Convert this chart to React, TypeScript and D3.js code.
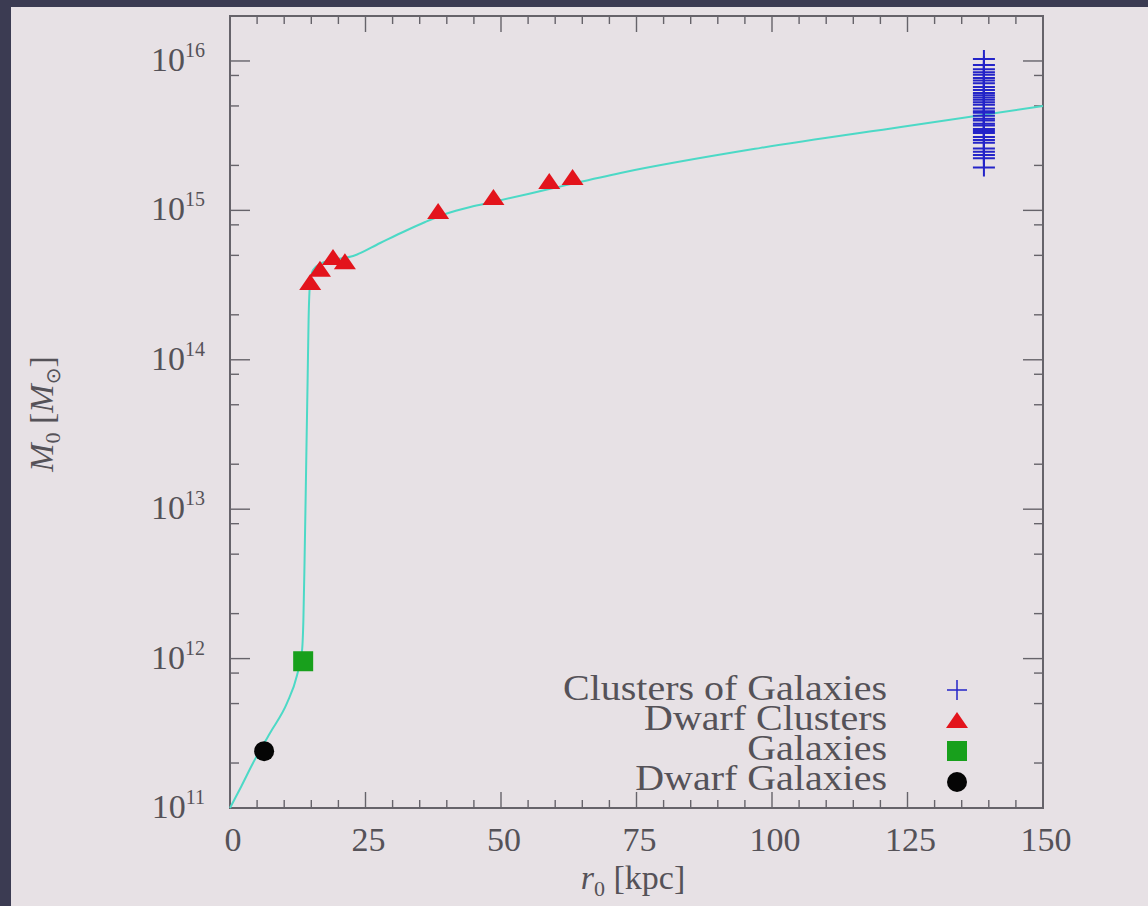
import React from "react";
import * as d3 from "d3";

// ---------- data ----------
const X_TICKS = [0, 25, 50, 75, 100, 125, 150];
const Y_EXPONENTS = [11, 12, 13, 14, 15, 16];
const Y_MINOR_MULTS = [2, 5, 8];

const CURVE_R = [0, 2.1, 4.25, 7.39, 10.53, 12.38, 13.3, 13.54, 13.76, 13.95, 14.13, 14.32, 14.5, 14.78, 15.33, 16.63, 18.84, 22.72, 27.71, 32.33, 36.02, 39.72, 44.34, 48.59, 59.67, 72.05, 97.91, 123.78, 150];
const CURVE_M = [1e11, 1.4e11, 2.0e11, 3.18e11, 5.05e11, 7.77e11, 1.14e12, 1.81e12, 4.57e12, 1.15e13, 2.9e13, 7.33e13, 1.85e14, 3.27e14, 3.99e14, 4.38e14, 4.66e14, 4.95e14, 6.05e14, 7.28e14, 8.36e14, 9.46e14, 1.055e15, 1.14e15, 1.41e15, 1.78e15, 2.62e15, 3.62e15, 5.0e15];

const CLUSTERS_R = 139.1;
const CLUSTERS_M = [10.3e15, 9.4e15, 8.8e15, 8.4e15, 8.1e15, 7.7e15, 7.4e15, 7.1e15, 6.7e15, 6.4e15, 6.1e15, 5.9e15, 5.7e15, 5.5e15, 5.3e15, 5.1e15, 4.8e15, 4.6e15, 4.5e15, 4.3e15, 4.1e15, 4.0e15, 3.8e15, 3.7e15, 3.5e15, 3.4e15, 3.3e15, 3.1e15, 2.96e15, 2.84e15, 2.6e15, 2.47e15, 2.35e15, 2.23e15, 1.94e15];

const DWARF_CLUSTERS_R = [14.8, 16.6, 19.0, 21.2, 38.4, 48.6, 58.9, 63.2];
const DWARF_CLUSTERS_M = [3.27e14, 4.0e14, 4.8e14, 4.5e14, 9.75e14, 1.21e15, 1.55e15, 1.65e15];

const GALAXIES_R = [13.5];
const GALAXIES_M = [9.6e11];

const DWARF_GALAXIES_R = [6.3];
const DWARF_GALAXIES_M = [2.4e11];

const LEGEND_LABELS = ["Clusters of Galaxies", "Dwarf Clusters", "Galaxies", "Dwarf Galaxies"];

// ---------- style ----------
const W = 1148;
const H = 906;
const L = 230, R = 1043, T = 16, B = 808;
const BG = "#e7e1e5";
const DARK = "#3b3b52";
const AXIS = "#66636a";
const TEXT = "#555258";
const CURVE = "#4cd9c6";
const BLUE = "#2424c8";
const RED = "#e3141c";
const GREEN = "#18a01c";
const FONT = "'Liberation Serif', 'Times New Roman', serif";

const x = d3.scaleLinear().domain([0, 150]).range([L, R]);
const y = d3.scaleLog().domain([1e11, 2e16]).range([B, T]);

function triPath(cx: number, cy: number) {
  return `M${cx},${cy - 9} L${cx + 11},${cy + 7} L${cx - 11},${cy + 7} Z`;
}
function plusPath(cx: number, cy: number, h = 10, v = 9) {
  return `M${cx - h},${cy} H${cx + h} M${cx},${cy - v} V${cy + v}`;
}

export default function App() {
  const line = d3
    .line<number>()
    .x((_, i) => x(CURVE_R[i]))
    .y((_, i) => y(CURVE_M[i]))
    .curve(d3.curveMonotoneX);

  const xMinor = d3.range(0, 151, 5).filter((v) => v % 25 !== 0);
  const yMinor: number[] = [];
  Y_EXPONENTS.forEach((e) =>
    Y_MINOR_MULTS.forEach((m) => {
      const v = m * Math.pow(10, e);
      if (v < 2e16) yMinor.push(v);
    })
  );

  const legendX = 887;
  const markerX = 957;
  const legendBase = 700;
  const legendStep = 30;

  return (
    <svg
      width={W}
      height={H}
      style={{ position: "absolute", left: 0, top: 0, display: "block" }}
      fontFamily={FONT}
    >
      <rect x={0} y={0} width={W} height={H} fill={BG} />
      <rect x={0} y={0} width={W} height={7} fill={DARK} />
      <rect x={0} y={0} width={11} height={H} fill={DARK} />

      {/* ticks */}
      <g stroke={AXIS} strokeWidth={1.4}>
        {X_TICKS.map((t) => (
          <g key={"xt" + t}>
            <line x1={x(t)} x2={x(t)} y1={B} y2={B - 16} />
            <line x1={x(t)} x2={x(t)} y1={T} y2={T + 16} />
          </g>
        ))}
        {xMinor.map((t) => (
          <g key={"xm" + t}>
            <line x1={x(t)} x2={x(t)} y1={B} y2={B - 8} />
            <line x1={x(t)} x2={x(t)} y1={T} y2={T + 8} />
          </g>
        ))}
        {Y_EXPONENTS.map((e) => {
          const yy = y(Math.pow(10, e));
          return (
            <g key={"yt" + e}>
              <line x1={L} x2={L + 20} y1={yy} y2={yy} />
              <line x1={R} x2={R - 20} y1={yy} y2={yy} />
            </g>
          );
        })}
        {yMinor.map((v) => {
          const yy = y(v);
          return (
            <g key={"ym" + v}>
              <line x1={L} x2={L + 9} y1={yy} y2={yy} />
              <line x1={R} x2={R - 9} y1={yy} y2={yy} />
            </g>
          );
        })}
      </g>

      {/* frame */}
      <rect x={L} y={T} width={R - L} height={B - T} fill="none" stroke={AXIS} strokeWidth={2} />

      {/* tick labels */}
      <g fill={TEXT} fontSize={34}>
        {X_TICKS.map((t) => (
          <text key={"xl" + t} x={x(t) + 3} y={851} textAnchor="middle">
            {t}
          </text>
        ))}
        {Y_EXPONENTS.map((e) => (
          <text key={"yl" + e} x={205} y={y(Math.pow(10, e)) + 10} textAnchor="end">
            10
            <tspan fontSize={20} dy={-14}>
              {e}
            </tspan>
          </text>
        ))}
      </g>

      {/* axis titles */}
      <text x={633} y={889} textAnchor="middle" fill={TEXT} fontSize={34}>
        <tspan fontStyle="italic">r</tspan>
        <tspan fontSize={22} dy={7}>0</tspan>
        <tspan dy={-7}> [kpc]</tspan>
      </text>
      <text
        transform="translate(53,414) rotate(-90)"
        textAnchor="middle"
        fill={TEXT}
        fontSize={34}
      >
        <tspan fontStyle="italic">M</tspan>
        <tspan fontSize={22} dy={7}>0</tspan>
        <tspan dy={-7}> [</tspan>
        <tspan fontStyle="italic">M</tspan>
        <tspan fontSize={20} dy={7} fontFamily="'DejaVu Sans', sans-serif">⊙</tspan>
        <tspan dy={-7}>]</tspan>
      </text>

      {/* curve */}
      <path d={line(CURVE_R) || ""} fill="none" stroke={CURVE} strokeWidth={2} />

      {/* clusters of galaxies */}
      <g stroke={BLUE} strokeWidth={2}>
        {CLUSTERS_M.map((m, i) => (
          <path key={"c" + i} d={plusPath(x(CLUSTERS_R), y(m), 11, 9)} fill="none" />
        ))}
      </g>

      {/* dwarf clusters */}
      <g fill={RED}>
        {DWARF_CLUSTERS_R.map((r, i) => (
          <path key={"dc" + i} d={triPath(x(r), y(DWARF_CLUSTERS_M[i]))} />
        ))}
      </g>

      {/* galaxies */}
      <g fill={GREEN}>
        {GALAXIES_R.map((r, i) => (
          <rect key={"g" + i} x={x(r) - 10} y={y(GALAXIES_M[i]) - 10} width={20} height={20} />
        ))}
      </g>

      {/* dwarf galaxies */}
      <g fill="#050505">
        {DWARF_GALAXIES_R.map((r, i) => (
          <circle key={"dg" + i} cx={x(r)} cy={y(DWARF_GALAXIES_M[i])} r={10} />
        ))}
      </g>

      {/* legend */}
      <g fill={TEXT} fontSize={36}>
        {LEGEND_LABELS.map((lab, i) => (
          <text
            key={lab}
            transform={`translate(${legendX},${legendBase + i * legendStep}) scale(1.11,1)`}
            textAnchor="end"
          >
            {lab}
          </text>
        ))}
      </g>
      <path d={plusPath(markerX, legendBase - 10, 10, 10)} stroke={BLUE} strokeWidth={1.5} fill="none" />
      <path d={triPath(markerX, legendBase + legendStep - 9)} fill={RED} />
      <rect x={markerX - 10} y={legendBase + 2 * legendStep - 19} width={20} height={20} fill={GREEN} />
      <circle cx={markerX} cy={legendBase + 3 * legendStep - 8} r={10} fill="#050505" />
    </svg>
  );
}
